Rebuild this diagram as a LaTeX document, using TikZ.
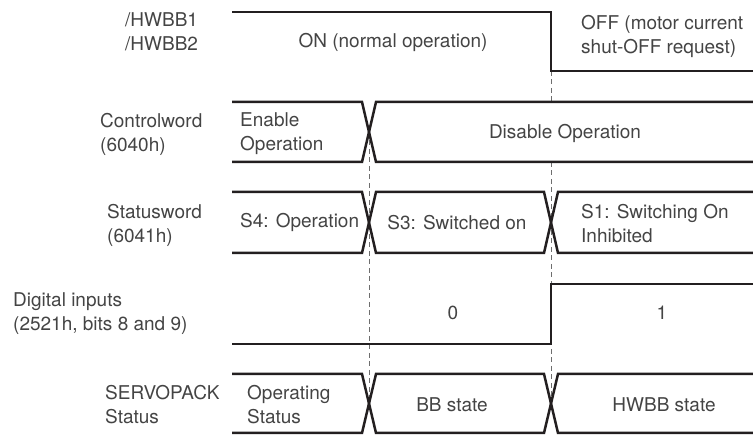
\documentclass[tikz,border=0pt]{standalone}
\usepackage{fontspec}
\setmainfont{TeX Gyre Heros}
\usepackage{tikz}
\usetikzlibrary{positioning,calc}
\definecolor{sigline}{HTML}{231F20}
\definecolor{sigtext}{HTML}{444444}
\definecolor{guidegray}{HTML}{6E6E6E}
\tikzset{
  wave/.style={draw=sigline, line width=2.5pt, line join=miter},
  guide/.style={draw=guidegray, line width=0.9pt, dash pattern=on 5pt off 3.5pt},
  lbl/.style={text=sigtext, inner sep=0pt, align=left, font=\fontsize{19}{24}\selectfont},
}

\begin{document}
\begin{tikzpicture}[x=1pt, y=-1pt]
        \useasboundingbox (0,0) rectangle (753,435);
        % guide lines at the two change points
        \draw[guide] (369,132) -- (369,403);
        \draw[guide] (551,71) -- (551,102);
        \draw[guide] (551,162) -- (551,403);
        % /HWBB1, /HWBB2
        \draw[wave] (232,12) -- (551,12) -- (551,71) -- (753,71);
        % Controlword
        \draw[wave] (232,102) -- (362,102) -- (376,162) -- (753,162);
        \draw[wave] (232,162) -- (362,162) -- (376,102) -- (753,102);
        % Statusword
        \draw[wave] (232,192) -- (362,192) -- (376,253) -- (544,253) -- (558,192) -- (753,192);
        \draw[wave] (232,253) -- (362,253) -- (376,192) -- (544,192) -- (558,253) -- (753,253);
        % Digital inputs
        \draw[wave] (232,344) -- (551,344) -- (551,284) -- (753,284);
        % SERVOPACK status
        \draw[wave] (232,374) -- (362,374) -- (376,433) -- (544,433) -- (558,374) -- (753,374);
        \draw[wave] (232,433) -- (362,433) -- (376,374) -- (544,374) -- (558,433) -- (753,433);

        % row names
        \node[lbl, anchor=west] (hwbb) at (125,32) {/HWBB1\\/HWBB2};
        \node[lbl, anchor=west] (cword) at (100,134) {Controlword\\(6040h)};
        \node[lbl, anchor=west] (sword) at (107,225) {Statusword\\(6041h)};
        \node[lbl, anchor=west] (dinput) at (13,314) {Digital inputs\\(2521h, bits 8 and 9)};
        \node[lbl, anchor=west] (spack) at (105,405) {SERVOPACK\\Status};

        % states
        \node[lbl] (hwbbon) at (393,42) {ON (normal operation)};
        \node[lbl, anchor=west] (hwbboff) at (581,36) {OFF (motor current\\shut-OFF request)};
        \node[lbl, anchor=west] (enop) at (240,134) {Enable\\Operation};
        \node[lbl] (disop) at (565,133) {Disable Operation};
        \node[lbl, anchor=west] (sfour) at (240,222) {S4: Operation};
        \node[lbl] (sthree) at (457,223) {S3: Switched on};
        \node[lbl, anchor=west] (sone) at (581,224) {S1: Switching On\\Inhibited};
        \node[lbl] (dzero) at (453,313) {0};
        \node[lbl] (done) at (662,313) {1};
        \node[lbl, anchor=west] (opstat) at (247,405) {Operating\\Status};
        \node[lbl] (bbstate) at (452,405) {BB state};
        \node[lbl] (hwstate) at (664,405) {HWBB state};
      \end{tikzpicture}
\end{document}
